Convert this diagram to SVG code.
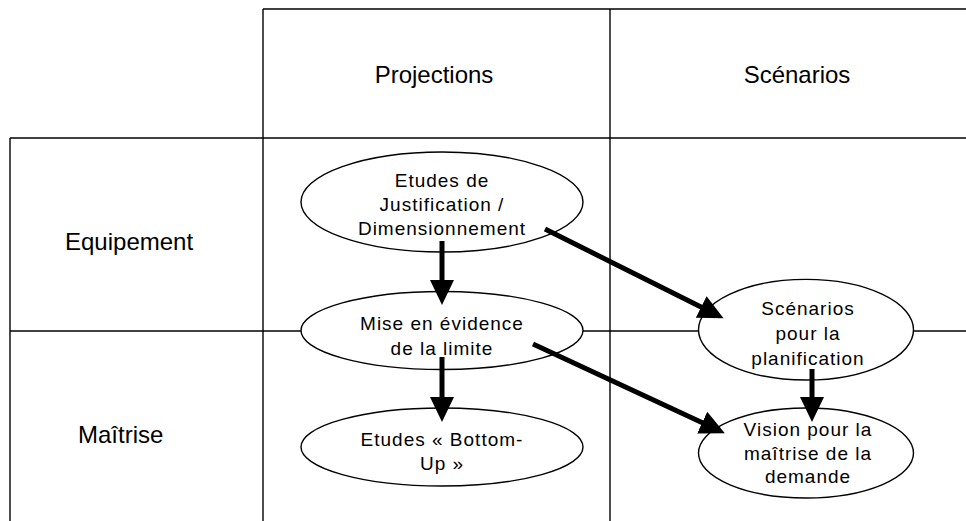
<svg xmlns="http://www.w3.org/2000/svg" width="966" height="521" viewBox="0 0 966 521">
<style>
.grid{stroke:#000;stroke-width:1.4;fill:none}
.node{fill:#fff;stroke:#000;stroke-width:1.4}
.hdr{font-family:"Liberation Sans",Arial,sans-serif;font-size:24px;fill:#000}
.lbl{font-family:"Liberation Sans",Arial,sans-serif;font-size:19px;letter-spacing:1px;fill:#000;text-anchor:middle}
.arr{stroke:#000;stroke-width:5;fill:none;marker-end:url(#ah)}
</style>
<defs>
<marker id="ah" markerUnits="userSpaceOnUse" markerWidth="28" markerHeight="26" refX="2" refY="12" orient="auto">
<path d="M0,0 L25,12 L0,24 z" fill="#000"/>
</marker>
</defs>
<g id="grid">
<line class="grid" x1="263" y1="9" x2="966" y2="9"/>
<line class="grid" x1="10" y1="138" x2="966" y2="138"/>
<line class="grid" x1="10" y1="331" x2="966" y2="331"/>
<line class="grid" x1="10" y1="138" x2="10" y2="521"/>
<line class="grid" x1="263" y1="9" x2="263" y2="521"/>
<line class="grid" x1="610" y1="9" x2="610" y2="521"/>
</g>
<g id="headers">
<text class="hdr" x="434" y="83" text-anchor="middle">Projections</text>
<text class="hdr" x="797" y="83" text-anchor="middle">Scénarios</text>
<text class="hdr" x="65" y="250">Equipement</text>
<text class="hdr" x="78" y="443">Maîtrise</text>
</g>
<g id="n1">
<ellipse class="node" cx="442" cy="202" rx="141" ry="50"/>
<text class="lbl" x="442" y="187">Etudes de</text>
<text class="lbl" x="442" y="211">Justification /</text>
<text class="lbl" x="442" y="235">Dimensionnement</text>
</g>
<g id="n2">
<ellipse class="node" cx="442" cy="330.5" rx="141" ry="39"/>
<text class="lbl" x="442" y="330">Mise en évidence</text>
<text class="lbl" x="442" y="355">de la limite</text>
</g>
<g id="n3">
<ellipse class="node" cx="442" cy="447" rx="141" ry="39"/>
<text class="lbl" x="442" y="446">Etudes « Bottom-</text>
<text class="lbl" x="442" y="470">Up »</text>
</g>
<g id="n4">
<ellipse class="node" cx="806" cy="329.7" rx="107.5" ry="50.3"/>
<text class="lbl" x="808" y="315">Scénarios</text>
<text class="lbl" x="808" y="340">pour la</text>
<text class="lbl" x="808" y="365">planification</text>
</g>
<g id="n5">
<ellipse class="node" cx="806" cy="453" rx="107.5" ry="45"/>
<text class="lbl" x="808" y="436">Vision pour la</text>
<text class="lbl" x="808" y="460">maîtrise de la</text>
<text class="lbl" x="808" y="483">demande</text>
</g>
<g id="connectors">
<line class="arr" x1="442" y1="241" x2="442" y2="282"/>
<line class="arr" x1="442" y1="357" x2="442" y2="399"/>
<line class="arr" x1="545" y1="229" x2="703" y2="308"/>
<line class="arr" x1="533" y1="344" x2="704" y2="423.5"/>
<line class="arr" x1="812" y1="369" x2="812" y2="399"/>
</g>
</svg>
